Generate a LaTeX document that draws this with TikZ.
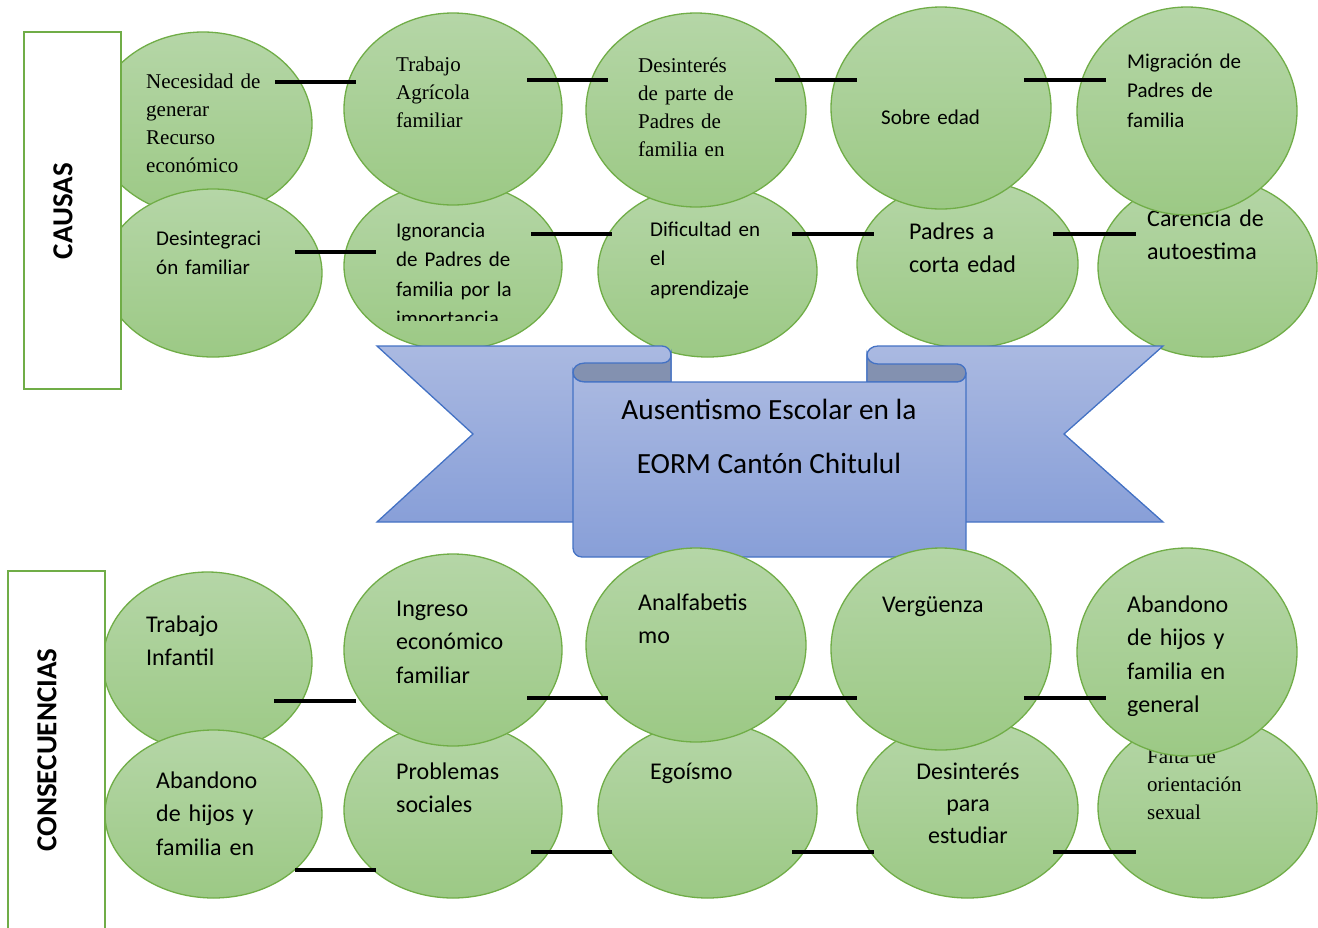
\documentclass[tikz,border=0pt]{standalone}
\usepackage{fontspec}
\setmainfont{Carlito}
\newfontfamily\timesfont{Liberation Serif}
\usetikzlibrary{shapes.geometric}

\definecolor{leafline}{HTML}{70AD47}
\definecolor{leaftop}{HTML}{B5D6A7}
\definecolor{leafbot}{HTML}{9CC985}
\definecolor{ribtop}{HTML}{AAB9E1}
\definecolor{ribbot}{HTML}{889FD8}
\definecolor{ribroll}{HTML}{8391B0}
\definecolor{ribline}{HTML}{4472C4}

\begin{document}
\begin{tikzpicture}[x=1pt, y=-1pt,
	bubble/.style={ellipse, draw=leafline, line width=1.3pt, top color=leaftop, bottom color=leafbot, minimum width=218, inner sep=0pt, outer sep=0pt},
	tnr text/.style={anchor=base west, inner sep=0pt, text width=150pt, align=left, font=\timesfont\fontsize{21}{28}\selectfont},
	cal text/.style={anchor=base west, inner sep=0pt, text width=150pt, align=left, font=\fontsize{21}{29.5}\selectfont},
	big text/.style={anchor=base west, inner sep=0pt, text width=160pt, align=left, font=\fontsize{24}{33.5}\selectfont},
	title text/.style={anchor=base, inner sep=0pt, font=\fontsize{29.3}{29.3}\selectfont},
	side box/.style={draw=leafline, line width=2pt, fill=white, inner sep=0pt},
	side label/.style={rotate=90, inner sep=0pt, font=\bfseries\fontsize{29}{29}\selectfont},
	ribbon/.style={draw=ribline, line width=1.3pt, top color=ribtop, bottom color=ribbot},
	roll/.style={draw=ribline, line width=1.3pt, fill=ribroll},
	bar/.style={line width=4pt}]

	\path[use as bounding box, fill=white] (0,0) rectangle (1318,927);

	\node[bubble, minimum height=184] (a1) at (203,124) {};
	\node[tnr text] (ta1) at (146,88) {Necesidad de\\generar\\Recurso\\económico};
	\node[bubble, minimum height=168] (b1) at (213,273) {};
	\node[cal text] (tb1) at (156,245) {Desintegraci\\ón familiar};

	\node[bubble, minimum height=168] (b2) at (453,266) {};
	\begin{scope}
		\clip (340,180) rectangle (570,320);
		\node[cal text] (tb2) at (396,237) {Ignorancia\\de Padres de\\familia por la\\importancia};
	\end{scope}
	\node[bubble, minimum height=192] (a2) at (453,109) {};
	\node[tnr text] (ta2) at (396,71) {Trabajo\\Agrícola\\familiar};

	\node[bubble, minimum width=219, minimum height=172] (b3) at (707.5,271) {};
	\node[cal text] (tb3) at (650,236) {Dificultad en\\el\\aprendizaje};
	\node[bubble, minimum width=220, minimum height=194] (a3) at (696,110) {};
	\node[tnr text] (ta3) at (638,72) {Desinterés\\de parte de\\Padres de\\familia en};

	\node[bubble, minimum width=221, minimum height=168] (b4) at (967.5,264) {};
	\node[big text] (tb4) at (909,239) {Padres a\\corta edad};
	\node[bubble, minimum width=220, minimum height=202] (a4) at (941,108) {};
	\node[cal text] (ta4) at (881,124) {Sobre edad};

	\node[bubble, minimum width=219, minimum height=180] (b5) at (1207.5,267) {};
	\node[big text] (tb5) at (1147,226) {Carencia de\\autoestima};
	\node[bubble, minimum width=220, minimum height=208] (a5) at (1187,111) {};
	\node[cal text] (ta5) at (1127,68) {Migración de\\Padres de\\familia};

	\foreach \l/\r/\dl/\dr/\h in {a1/a2/-37/12/82, a2/a3/-35/22/80, a3/a4/-31/26/80, a4/a5/-27/29/80,
		b1/b2/-27/32/252, b2/b3/-31/14/234, b3/b4/-25/17/234, b4/b5/-25/38/234}
	{
		\coordinate (lev) at (0,\h);
		\draw[bar] ([xshift=\dl]\l.east |- lev) -- ([xshift=\dr]\r.west |- lev);
	}

	\draw[ribbon] (377,346) -- (662,346) .. controls (667,346) and (671,350) .. (671,355) -- (671,522) -- (377,522) -- (473,434) -- cycle;
	\draw[ribbon] (1163,346) -- (878,346) .. controls (872,346) and (867,350) .. (867,355) -- (867,522) -- (1163,522) -- (1064,434) -- cycle;
	\draw[roll] (671,355) .. controls (671,360) and (667,363) .. (662,363) -- (585,363) .. controls (578,363) and (573,367) .. (573,372.5) .. controls (573,378) and (578,382) .. (585,382) -- (671,382) -- cycle;
	\draw[roll] (867,355) .. controls (867,360) and (872,364) .. (878,364) -- (957,364) .. controls (962,364) and (966,368) .. (966,373) .. controls (966,378) and (962,382) .. (957,382) -- (867,382) -- cycle;
	\draw[ribbon] (573,372.5) .. controls (573,378) and (578,382) .. (585,382) -- (957,382) .. controls (962,382) and (966,378) .. (966,373) -- (966,553) .. controls (966,555) and (964,557) .. (962,557) -- (582,557) .. controls (577,557) and (573,553) .. (573,548) -- cycle;
	\node[title text] (t1) at (769,419) {Ausentismo Escolar en la};
	\node[title text] (t2) at (769,473) {EORM Cantón Chitulul};

	\node[bubble, minimum width=209, minimum height=180] (c1) at (207.5,662) {};
	\node[big text] (tc1) at (146,632) {Trabajo\\Infantil};
	\node[bubble, minimum width=217, minimum height=168] (d1) at (213.5,814) {};
	\node[big text] (td1) at (156,788) {Abandono\\de hijos y\\familia en};

	\node[bubble, minimum height=176] (d2) at (453,810) {};
	\node[big text] (td2) at (396,779) {Problemas\\sociales};
	\node[bubble, minimum height=192] (c2) at (453,650) {};
	\node[big text] (tc2) at (396,616) {Ingreso\\económico\\familiar};

	\node[bubble, minimum width=219, minimum height=176] (d3) at (707.5,810) {};
	\node[big text] (td3) at (650,779) {Egoísmo};
	\node[bubble, minimum width=220, minimum height=194] (c3) at (696,645) {};
	\node[big text] (tc3) at (638,610) {Analfabetis\\mo};

	\node[bubble, minimum width=221, minimum height=178] (d4) at (967.5,809) {};
	\node[big text, anchor=base, align=center, text width=120pt, font=\fontsize{24}{32}\selectfont] (td4) at (968,779) {Desinterés\\para\\estudiar};
	\node[bubble, minimum width=220, minimum height=202] (c4) at (941,649) {};
	\node[big text] (tc4) at (882,612) {Vergüenza};

	\node[bubble, minimum width=219, minimum height=181] (d5) at (1207.5,807.5) {};
	\node[tnr text] (td5) at (1147,763) {Falta de\\orientación\\sexual};
	\node[bubble, minimum width=220, minimum height=208] (c5) at (1187,652) {};
	\begin{scope}
		\clip (1100,580) rectangle (1300,715);
		\node[big text] (tc5) at (1127,612) {Abandono\\de hijos y\\familia en\\general};
	\end{scope}

	\foreach \l/\r/\dl/\dr/\h in {c1/c2/-38/12/701, c2/c3/-35/22/698, c3/c4/-31/26/698, c4/c5/-27/29/698,
		d1/d2/-27/32/870, d2/d3/-31/14/852, d3/d4/-25/17/852, d4/d5/-25/38/852}
	{
		\coordinate (lev) at (0,\h);
		\draw[bar] ([xshift=\dl]\l.east |- lev) -- ([xshift=\dr]\r.west |- lev);
	}

	\node[side box, minimum width=97, minimum height=357] (causas) at (72.5,210.5) {};
	\node[side label] (lcausas) at (63,211) {CAUSAS};
	\node[side box, minimum width=97, minimum height=380] (consec) at (56.5,761) {};
	\node[side label] (lconsec) at (47,750) {CONSECUENCIAS};

\end{tikzpicture}
\end{document}
